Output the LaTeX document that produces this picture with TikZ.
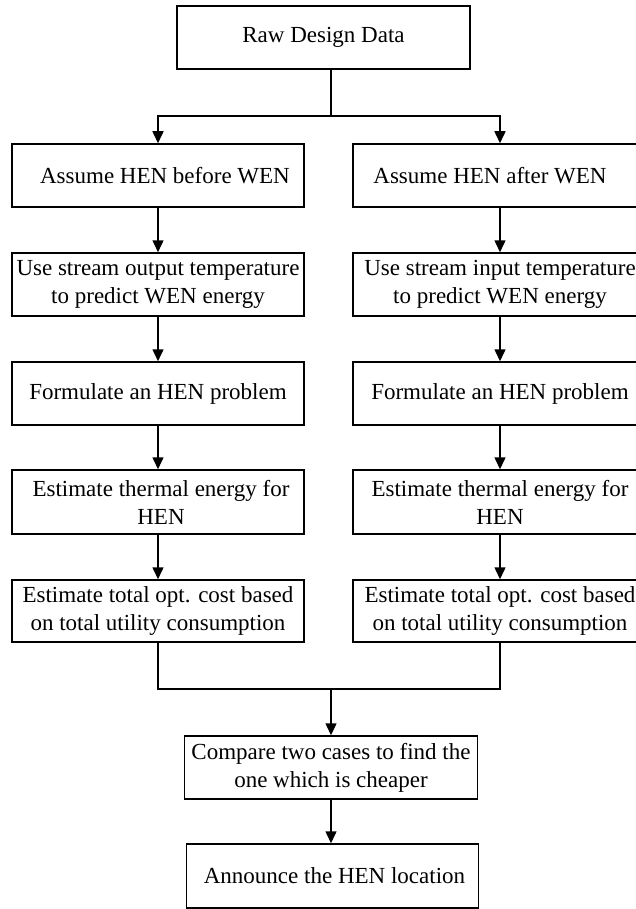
\documentclass[tikz,border=0pt]{standalone}
\usepackage{fontspec}
\setmainfont{Liberation Serif}
\usetikzlibrary{arrows.meta}

\tikzset{
  stepbox/.style={draw=black, line width=1.5pt, rectangle, inner sep=0pt,
    minimum width=292pt, minimum height=63pt, align=center,
    font=\fontsize{23}{27.8}\selectfont},
  link/.style={draw=black, line width=1.5pt},
  arr/.style={link, -{Triangle[width=11pt,length=12pt]}},
}

\begin{document}
\begin{tikzpicture}[x=1pt, y=-1pt]
  \useasboundingbox (0,0) rectangle (635,909);

  % source data
  \node[stepbox, minimum width=293pt] (raw) at (323.5,37.5) {Raw Design Data};

  % left branch: HEN placed before the WEN
  \node[stepbox] (l1) at (158,175.5) {\hspace*{14pt}Assume HEN before WEN};
  \node[stepbox] (l2) at (158,284.5) {Use stream output temperature\\to predict WEN energy};
  \node[stepbox] (l3) at (158,393.5) {Formulate an HEN problem};
  \node[stepbox, minimum height=64pt] (l4) at (158,502) {\hspace*{6pt}Estimate thermal energy for\\\hspace*{6pt}HEN};
  \node[stepbox, minimum height=62pt] (l5) at (158,611) {Estimate total opt. cost based\\on total utility consumption};

  % right branch: HEN placed after the WEN
  \node[stepbox, minimum width=294pt] (r1) at (500,175.5) {Assume HEN after WEN\hspace*{20pt}};
  \node[stepbox, minimum width=294pt] (r2) at (500,284.5) {Use stream input temperature\\to predict WEN energy};
  \node[stepbox, minimum width=294pt] (r3) at (500,393.5) {Formulate an HEN problem};
  \node[stepbox, minimum width=294pt, minimum height=64pt] (r4) at (500,502) {Estimate thermal energy for\\HEN};
  \node[stepbox, minimum width=294pt, minimum height=62pt] (r5) at (500,611) {Estimate total opt. cost based\\on total utility consumption};

  % decision and result
  \node[stepbox, minimum width=293pt] (cmp) at (331,767.5) {Compare two cases to find the\\one which is cheaper};
  \node[stepbox, minimum height=64pt] (ann) at (332.5,876) {\hspace*{4pt}Announce the HEN location};

  % split after the raw data
  \coordinate (split) at (331,116);
  \draw[link] (raw.south -| split) -- (split);
  \draw[arr] (split) -| (l1.north);
  \draw[arr] (split) -| (r1.north);

  % left chain
  \draw[arr] (l1) -- (l2);
  \draw[arr] (l2) -- (l3);
  \draw[arr] (l3) -- (l4);
  \draw[arr] (l4) -- (l5);

  % right chain
  \draw[arr] (r1) -- (r2);
  \draw[arr] (r2) -- (r3);
  \draw[arr] (r3) -- (r4);
  \draw[arr] (r4) -- (r5);

  % merge of both branches
  \coordinate (join) at (331,689);
  \draw[link] (l5.south) |- (join) -| (r5.south);
  \draw[arr] (join) -- (cmp.north);
  \draw[arr] (cmp.south) -- (cmp.south |- ann.north);
\end{tikzpicture}
\end{document}
